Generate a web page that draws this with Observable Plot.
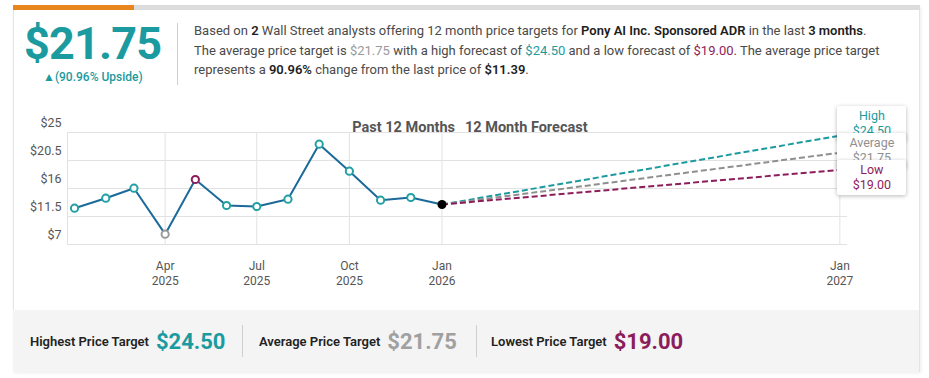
<!DOCTYPE html>
<html><head><meta charset="utf-8">
<script src="https://cdn.jsdelivr.net/npm/d3@7"></script>
<script src="https://cdn.jsdelivr.net/npm/@observablehq/plot@0.6"></script>
<style>
body{margin:0;background:#fff;font-family:Roboto,"Noto Sans",sans-serif;}
#page{position:relative;width:929px;height:378px;overflow:hidden;}
.abs{position:absolute;}
#card{left:13px;top:6px;width:905px;height:365px;border:1px solid #e4e4e4;border-top:none;box-shadow:1px 1px 3px rgba(0,0,0,0.08);}
#topbar{left:13px;top:5px;width:907px;height:5px;background:#dcdcdc;}
#topbar .o{position:absolute;left:0;top:0;width:121px;height:5px;background:#e8861d;}
#big{left:24px;top:17px;font-size:45px;font-weight:700;color:#1b9ba0;letter-spacing:-0.8px;}
#up{left:43px;top:70px;font-size:12px;font-weight:500;color:#1b9ba0;}
#div1{left:177px;top:23px;width:1px;height:62px;background:#cfcfcf;}
#para{left:194px;top:21px;font-size:13px;line-height:19.5px;color:#4a4a4a;white-space:nowrap;}
#para b{color:#1e1e1e;font-weight:600;}
#bottom{left:13px;top:310px;width:906px;height:62px;background:#f4f4f4;}
.bl{position:absolute;top:0;height:62px;display:flex;align-items:center;white-space:nowrap;}
.bl .lab{font-size:13px;font-weight:600;color:#222;}
.bl .val{font-size:22px;font-weight:700;margin-left:7px;}
.vd{position:absolute;top:15px;width:1px;height:32px;background:#cfcfcf;}
.fbox{position:absolute;width:69px;height:35px;background:#fff;box-shadow:0 1px 4px rgba(0,0,0,0.28);border-radius:2px;text-align:center;font-size:12.5px;line-height:15px;padding-top:2px;box-sizing:border-box;overflow:hidden;}
</style></head>
<body>
<div id="page">
  <div id="card" class="abs"></div>
  <div id="topbar" class="abs"><div class="o"></div></div>
  <div id="big" class="abs">$21.75</div>
  <div id="up" class="abs">▲(90.96% Upside)</div>
  <div id="div1" class="abs"></div>
  <div id="para" class="abs">Based on <b>2</b> Wall Street analysts offering 12 month price targets for <b>Pony AI Inc. Sponsored ADR</b> in the last <b>3 months</b>.<br>The average price target is <span style="color:#9a9a9a">$21.75</span> with a high forecast of <span style="color:#1b9ba0">$24.50</span> and a low forecast of <span style="color:#8c1d5a">$19.00</span>. The average price target<br>represents a <b>90.96%</b> change from the last price of <b>$11.39</b>.</div>
  <div id="chart" class="abs" style="left:0;top:100px;width:929px;height:200px;"></div>
  <div id="bottom" class="abs">
    <div class="bl" style="left:17px"><span class="lab">Highest Price Target</span><span class="val" style="color:#1b9ba0">$24.50</span></div>
    <div class="vd" style="left:229px"></div>
    <div class="bl" style="left:246px"><span class="lab">Average Price Target</span><span class="val" style="color:#a0a0a0">$21.75</span></div>
    <div class="vd" style="left:463px"></div>
    <div class="bl" style="left:478px"><span class="lab">Lowest Price Target</span><span class="val" style="color:#8c1d5a">$19.00</span></div>
  </div>
</div>
<script>
// ---- data ----
const months = ["2025-01-01","2025-02-01","2025-03-01","2025-04-01","2025-05-01","2025-06-01","2025-07-01","2025-08-01","2025-09-01","2025-10-01","2025-11-01","2025-12-01","2026-01-01"];
const prices = [12.83,14.44,16.05,8.66,17.45,13.27,13.11,14.28,23.12,18.78,14.12,14.55,13.43];
const pointKinds = ["teal","teal","teal","gray","purple","teal","teal","teal","teal","teal","teal","teal","last"];
const forecastLabels = ["High","Average","Low"];
const forecastValues = [24.5,21.75,19.0];
const forecastDate = "2027-01-01";
const yTicks = [7,11.5,16,20.5,25];
const xTicks = ["2025-04-01","2025-07-01","2025-10-01","2026-01-01","2027-01-01"];

const TEAL="#1b9ba0", PURPLE="#8c1d5a", GRAY="#8f8f8f", LINE="#1b6a9a";
const kindColor = {teal:"#22a0a3", gray:"#9a9a9a", purple:PURPLE, last:"#000"};
const fColors = [TEAL, GRAY, PURPLE];

const hist = months.map((m,i)=>({date:new Date(m), price:prices[i], kind:pointKinds[i]}));
const last = hist[hist.length-1];
const fc = forecastLabels.map((l,i)=>({label:l, value:forecastValues[i], color:fColors[i]}));
const fDate = new Date(forecastDate);
const xT = xTicks.map(d=>new Date(d));

const chart = Plot.plot({
  width:929, height:200,
  marginLeft:67, marginRight:82, marginTop:32, marginBottom:56,
  style:{background:"transparent", overflow:"visible", fontFamily:"Roboto, sans-serif", fontSize:"12px", color:"#555"},
  x:{type:"utc", domain:[new Date(Date.UTC(2024,11,25)), last.date, new Date(Date.UTC(2027,0,8))], range:[67,441.5,847], axis:null},
  y:{domain:[7,25], axis:null},
  marks:[
    Plot.gridY(yTicks,{stroke:"#e2e2e2", strokeOpacity:1}),
    Plot.gridX(xT,{stroke:"#e2e2e2", strokeOpacity:1}),
    Plot.ruleX([new Date(Date.UTC(2024,11,25))],{stroke:"#e2e2e2"}),
    Plot.axisY(yTicks,{tickSize:0, tickPadding:6, dy:-10, tickFormat:d=>"$"+d, fontSize:12.5, fill:"#555"}),
    Plot.axisX(xT,{tickSize:0, tickPadding:15, tickFormat:d=>d3.utcFormat("%b")(d)+"\n"+d3.utcFormat("%Y")(d), lineHeight:1.25, fontSize:12, fill:"#555"}),
    Plot.link(fc,{x1:()=>last.date, y1:()=>last.price, x2:()=>fDate, y2:"value", stroke:"color", strokeWidth:2, strokeDasharray:"6,3"}),
    Plot.line(hist,{x:"date", y:"price", stroke:LINE, strokeWidth:2}),
    Plot.dot(hist.filter(d=>d.kind!=="last"),{x:"date", y:"price", r:3.6, fill:"white", stroke:d=>kindColor[d.kind], strokeWidth:2}),
    Plot.dot(hist.filter(d=>d.kind==="last"),{x:"date", y:"price", r:4.5, fill:"#000"}),
    Plot.text(["Past 12 Months"],{x:()=>last.date, frameAnchor:"top", dy:-11, dx:13, textAnchor:"end", fontSize:14.5, fontWeight:700, fill:"#555"}),
    Plot.text(["12 Month Forecast"],{x:()=>last.date, frameAnchor:"top", dy:-11, dx:23, textAnchor:"start", fontSize:14.5, fontWeight:700, fill:"#555"})
  ]
});
const host = document.getElementById("chart");
host.appendChild(chart);

// forecast label boxes positioned via the chart's scales
const xs = chart.scale("x"), ys = chart.scale("y");
const xEnd = xs.apply(fDate);
const yMid = ys.apply(forecastValues[1]);
fc.forEach((d,i)=>{
  const b = document.createElement("div");
  b.className="fbox";
  b.style.left = (xEnd-2)+"px";
  b.style.top = (yMid-19+(i-1)*27)+"px";
  b.style.color = d.color;
  b.style.zIndex = 10+i;
  b.innerHTML = d.label+"<br>$"+d.value.toFixed(2);
  host.appendChild(b);
});
</script>
</body></html>
